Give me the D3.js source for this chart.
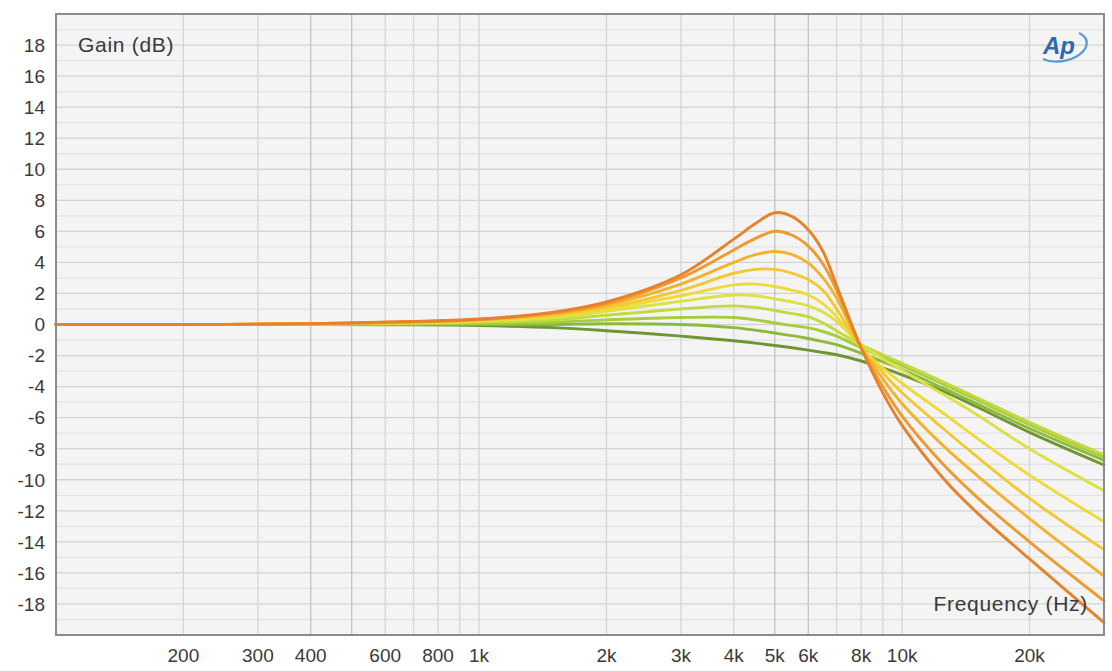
<!DOCTYPE html>
<html>
	<head>
		<title>Gain vs Frequency</title>

		<style>
            body
            {
                margin: 0;
                background: #ffffff;
                font-family: "Liberation Sans", Arial, sans-serif;
            }

            .tickText
            {
                font-size: 19px;
                fill: #3a3a3a;
            }

            .axisTitle
            {
                font-size: 21px;
                fill: #3a3a3a;
                letter-spacing: 0.7px;
            }
		</style>

		<script src="https://d3js.org/d3.v7.min.js"></script>
	</head>

	<body>
        <svg id="chart" width="1112" height="671"></svg>

		<script>
        var frequencies = [100, 200, 400, 700, 1000, 1500, 2000, 3000, 4000, 4500, 5000, 5500, 6000, 6500, 7000, 8000, 9000, 10000, 12500, 15000, 20000, 30000];

        // gain (dB), dark green curve first, orange last
        var gain0 = [0, 0, 0, -0.02, -0.07, -0.2, -0.4, -0.75, -1.05, -1.2, -1.35, -1.5, -1.65, -1.8, -1.95, -2.35, -2.8, -3.25, -4.3, -5.3, -6.95, -9.05];
        var gain1 = [0, 0, 0, 0.02, 0, 0, 0.05, 0, -0.2, -0.37, -0.55, -0.72, -0.9, -1.1, -1.3, -1.85, -2.4, -2.9, -4.1, -5.1, -6.7, -8.75];
        var gain2 = [0, 0, 0.01, 0.05, 0.08, 0.15, 0.3, 0.45, 0.45, 0.3, 0.1, -0.07, -0.22, -0.45, -0.75, -1.5, -2.1, -2.65, -3.85, -4.85, -6.45, -8.55];
        var gain3 = [0, 0, 0.02, 0.07, 0.15, 0.3, 0.6, 1.0, 1.2, 1.1, 0.9, 0.7, 0.5, 0.1, -0.4, -1.3, -1.95, -2.5, -3.7, -4.7, -6.3, -8.4];
        var gain4 = [0, 0, 0.02, 0.1, 0.2, 0.45, 0.85, 1.5, 1.9, 1.85, 1.65, 1.45, 1.2, 0.8, 0.2, -1.3, -2.2, -2.95, -4.5, -5.8, -8.0, -10.7];
        var gain5 = [0, 0, 0.03, 0.12, 0.25, 0.55, 1.0, 1.85, 2.55, 2.6, 2.45, 2.2, 1.9, 1.35, 0.5, -1.5, -2.8, -3.8, -5.7, -7.3, -9.7, -12.7];
        var gain6 = [0, 0, 0.04, 0.14, 0.28, 0.62, 1.1, 2.2, 3.3, 3.55, 3.55, 3.3, 2.9, 2.2, 1.0, -1.5, -3.1, -4.4, -6.7, -8.5, -11.2, -14.5];
        var gain7 = [0, 0, 0.04, 0.16, 0.3, 0.7, 1.25, 2.6, 4.0, 4.5, 4.7, 4.5, 3.95, 3.0, 1.7, -1.5, -3.5, -5.1, -7.8, -9.7, -12.5, -16.2];
        var gain8 = [0, 0, 0.05, 0.18, 0.32, 0.75, 1.35, 3.0, 4.8, 5.55, 6.0, 5.75, 5.05, 3.9, 2.2, -1.5, -4.0, -5.9, -9.0, -11.1, -14.0, -17.8];
        var gain9 = [0, 0, 0.05, 0.2, 0.35, 0.8, 1.45, 3.2, 5.5, 6.5, 7.2, 6.95, 6.1, 4.7, 2.5, -1.5, -4.4, -6.5, -9.9, -12.1, -15.1, -19.2];

        var seriesColors = ["#6f9631", "#8cba3a", "#a6cd3c", "#c2da40", "#dbe146", "#f0da36", "#f3c830", "#f3b22c", "#ee9a2c", "#e8822a"];

        var yTicks = [18, 16, 14, 12, 10, 8, 6, 4, 2, 0, -2, -4, -6, -8, -10, -12, -14, -16, -18];
        var xTickValues = [200, 300, 400, 600, 800, 1000, 2000, 3000, 4000, 5000, 6000, 8000, 10000, 20000];
        var xTickLabels = ["200", "300", "400", "600", "800", "1k", "2k", "3k", "4k", "5k", "6k", "8k", "10k", "20k"];

        var allGains = [gain0, gain1, gain2, gain3, gain4, gain5, gain6, gain7, gain8, gain9];

        var config =
        {
            "width": 1112,
            "height": 671,
            "left": 56,
            "top": 14,
            "right": 1104,
            "bottom": 635
        };

        var svg = d3.select("#chart");

        var x =
        d3.scaleLog()
        .domain([100, 30000])
        .range([config.left, config.right]);

        var y =
        d3.scaleLinear()
        .domain([-20, 20])
        .range([config.bottom, config.top]);

        // plot background
        svg
        .append("rect")
        .attr("x", config.left)
        .attr("y", config.top)
        .attr("width", config.right - config.left)
        .attr("height", config.bottom - config.top)
        .attr("fill", "#f4f4f4");

        // horizontal grid, odd values lighter
        svg
        .append("g")
        .selectAll("line")
        .data(y.ticks(40).filter(function(d) { return d > -20 && d < 20; }))
        .enter()
        .append("line")
        .attr("x1", config.left)
        .attr("x2", config.right)
        .attr("y1", function(d) { return y(d); })
        .attr("y2", function(d) { return y(d); })
        .attr("stroke", function(d)
        {
            return (d % 2 == 0) ? "#d3d3d3" : "#e4e4e4";
        })
        .attr("stroke-width", 1.3);

        // vertical grid
        svg
        .append("g")
        .selectAll("line")
        .data(x.ticks().filter(function(d) { return d > 100 && d < 30000; }))
        .enter()
        .append("line")
        .attr("x1", function(d) { return x(d); })
        .attr("x2", function(d) { return x(d); })
        .attr("y1", config.top)
        .attr("y2", config.bottom)
        .attr("stroke", function(d)
        {
            return (d == 400 || d == 500 || d == 5000 || d == 6000) ? "#c2c2c2" : "#d6d6d6";
        })
        .attr("stroke-width", 1.3);

        // curves
        var line =
        d3.line()
        .x(function(d) { return x(d.f); })
        .y(function(d) { return y(d.g); })
        .curve(d3.curveCatmullRom.alpha(0.5));

        var curveData = allGains.map(function(gains, i)
        {
            return {
                color: seriesColors[i],
                points: frequencies.map(function(f, j) { return {f: f, g: gains[j]}; })
            };
        });

        svg
        .append("g")
        .selectAll("path")
        .data(curveData)
        .enter()
        .append("path")
        .attr("d", function(d) { return line(d.points); })
        .attr("fill", "none")
        .attr("stroke", function(d) { return d.color; })
        .attr("stroke-width", 2.9)
        .attr("stroke-linejoin", "round")
        .attr("stroke-linecap", "round");

        // frame
        svg
        .append("rect")
        .attr("x", config.left)
        .attr("y", config.top)
        .attr("width", config.right - config.left)
        .attr("height", config.bottom - config.top)
        .attr("fill", "none")
        .attr("stroke", "#8c8c8c")
        .attr("stroke-width", 2);

        // y tick labels
        svg
        .append("g")
        .selectAll("text")
        .data(yTicks)
        .enter()
        .append("text")
        .attr("class", "tickText")
        .attr("x", config.left - 11)
        .attr("y", function(d) { return y(d); })
        .attr("dy", "0.36em")
        .attr("text-anchor", "end")
        .text(function(d) { return d; });

        // x tick labels
        svg
        .append("g")
        .selectAll("text")
        .data(xTickValues)
        .enter()
        .append("text")
        .attr("class", "tickText")
        .attr("x", function(d) { return x(d); })
        .attr("y", config.bottom + 27)
        .attr("text-anchor", "middle")
        .text(function(d, i) { return xTickLabels[i]; });

        // axis titles inside the plot
        svg
        .append("text")
        .attr("class", "axisTitle")
        .attr("x", config.left + 22)
        .attr("y", y(18) + 7)
        .text("Gain (dB)");

        svg
        .append("text")
        .attr("class", "axisTitle")
        .attr("x", config.right - 16)
        .attr("y", y(-18) + 7)
        .attr("text-anchor", "end")
        .text("Frequency (Hz)");

        // AP logo
        var logo =
        svg
        .append("g")
        .attr("transform", "translate(1063,46)");

        logo
        .append("path")
        .attr("d", "M -20 13 A 24 14 -10 0 0 16 -13")
        .attr("fill", "none")
        .attr("stroke", "#5a9ad6")
        .attr("stroke-width", 2.4);

        logo
        .append("text")
        .attr("x", -4)
        .attr("y", 8)
        .attr("text-anchor", "middle")
        .attr("font-size", "24px")
        .attr("font-style", "italic")
        .attr("font-weight", "bold")
        .attr("fill", "#2d69b0")
        .text("Ap");
		</script>
	</body>
</html>
